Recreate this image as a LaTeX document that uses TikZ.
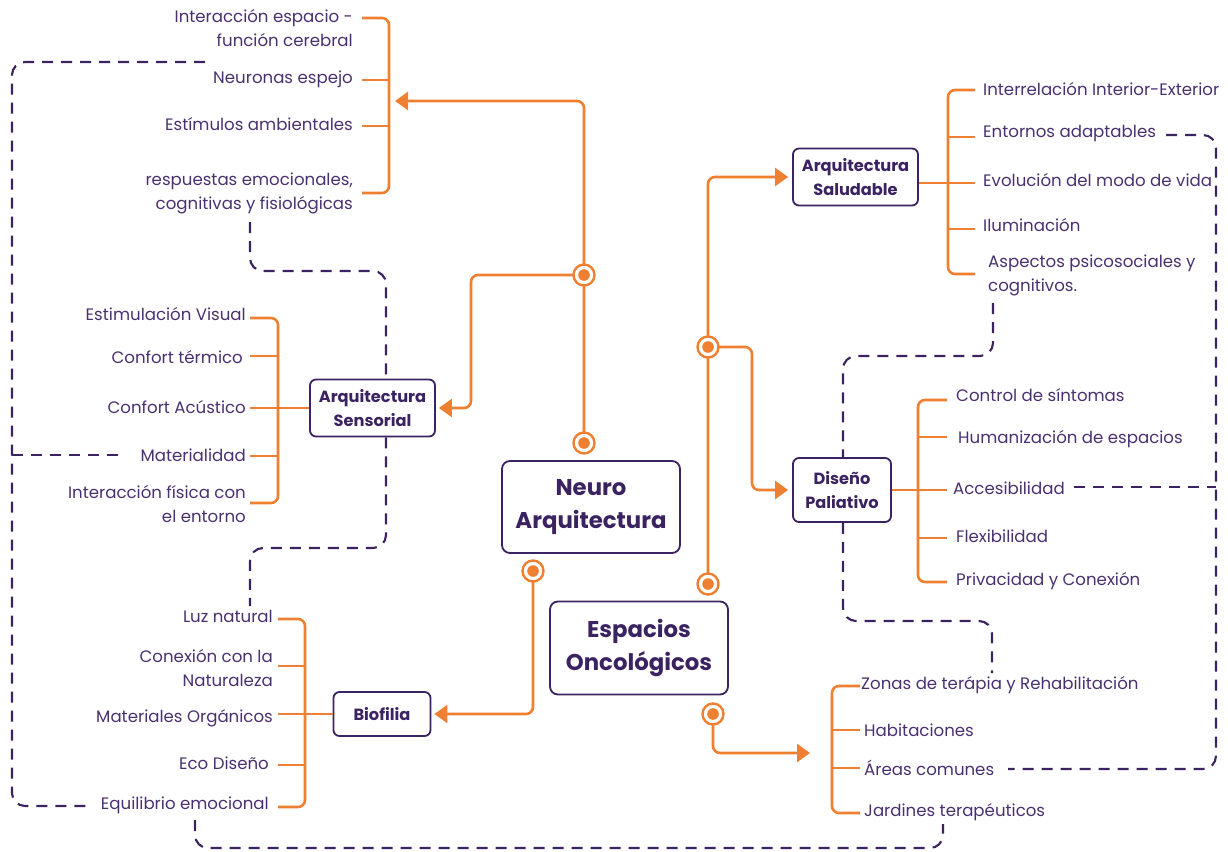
\documentclass[tikz,border=0pt]{standalone}
\usepackage{fontspec}
\setmainfont{Poppins}
\usetikzlibrary{arrows.meta}
\definecolor{orng}{HTML}{EF7F31}
\definecolor{purp}{HTML}{3B2261}
\definecolor{txt}{HTML}{4A3070}
\begin{document}
\begin{tikzpicture}[x=1pt,y=-1pt,
  lbl/.style={text=txt, inner sep=0, font=\fontsize{16.6}{24}\selectfont},
  lblR/.style={lbl, anchor=east, align=right},
  lblL/.style={lbl, anchor=west, align=left},
  box/.style={draw=purp, line width=1.8, rounded corners=6, text=purp, fill=white,
    font=\bfseries\fontsize{16.2}{24}\selectfont, align=center, inner sep=0},
  bigbox/.style={box, rounded corners=8, font=\bfseries\fontsize{22.8}{33}\selectfont},
  oline/.style={draw=orng, line width=2.6, rounded corners=7},
  arr/.style={-{Triangle[length=13,width=18]}},
  dline/.style={draw=purp, line width=2.1, dash pattern=on 11 off 8, rounded corners=13},
  ringnode/.style={circle, draw=orng, fill=white, line width=2.4, minimum size=21, inner sep=0,
    path picture={\fill[orng] (path picture bounding box.center) circle (5.8);}}
]
\useasboundingbox (0,0) rectangle (1228,851);

% ---------- main boxes ----------
\node[bigbox, minimum width=178, minimum height=92] (neuro) at (591,507) {Neuro\\Arquitectura};
\node[bigbox, minimum width=178, minimum height=93] (onco) at (639,648) {Espacios\\Oncológicos};
\node[box, minimum width=125, minimum height=57] (sens) at (372.5,408) {Arquitectura\\Sensorial};
\node[box, minimum width=97, minimum height=44] (bio) at (382,714) {Biofilia};
\node[box, minimum width=125, minimum height=57] (salud) at (855.5,177) {Arquitectura\\Saludable};
\node[box, minimum width=98, minimum height=64] (pal) at (842,490) {Diseño\\Paliativo};

% ---------- arrow end points ----------
\coordinate (tipA) at (395,101);
\coordinate (tipO) at (810,753);

% ---------- orange connectors ----------
\coordinate (nA) at (584,275);
\coordinate (nB) at (584,443);
\coordinate (nC) at (533,571);
\coordinate (oA) at (708,347);
\coordinate (oB) at (708,584);
\coordinate (oC) at (713,714);

\draw[oline, arr] (nB) -- (584,101) -- (tipA);
\draw[oline, arr] (nA) -- (471,275) -- (471,408) -- ([xshift=3pt]sens.east);
\draw[oline, arr] (nC) -- (533,714) -- ([xshift=3pt]bio.east);
\draw[oline, arr] (oB) -- (708,177) -- ([xshift=-4pt]salud.west);
\draw[oline, arr] (oA) -- (752,347) -- (752,490) -- ([xshift=-4pt]pal.west);
\draw[oline, arr] (oC) -- (713,753) -- (tipO);

\foreach \p in {nA,nB,nC,oA,oB,oC} \node[ringnode] (r\p) at (\p) {};

% ---------- brackets ----------
% Neuro Arquitectura items
\draw[oline] (362,18) -- (389,18) -- (389,193) -- (362,193);
\foreach \y in {80,126} \draw[oline] (362,\y) -- (389,\y);
% Arquitectura Sensorial items
\draw[oline] (250,318) -- (278,318) -- (278,503) -- (250,503);
\foreach \y in {356,456} \draw[oline] (250,\y) -- (278,\y);
\draw[oline] (250,408) -- (sens.west);
% Biofilia items
\draw[oline] (278,619) -- (305,619) -- (305,807) -- (278,807);
\foreach \y in {666,765} \draw[oline] (278,\y) -- (305,\y);
\draw[oline] (278,714) -- (bio.west);
% Arquitectura Saludable items
\draw[oline] (975,90) -- (948,90) -- (948,274) -- (975,274);
\foreach \y in {137,229} \draw[oline] (948,\y) -- (975,\y);
\draw[oline] (salud.east |- 0,183) -- (975,183);
% Diseño Paliativo items
\draw[oline] (947,400) -- (918,400) -- (918,582) -- (947,582);
\foreach \y in {437,538} \draw[oline] (918,\y) -- (947,\y);
\draw[oline] (pal.east) -- (947,490);
% Espacios Oncológicos items
\draw[oline] (860,686) -- (832,686) -- (832,813) -- (860,813);
\foreach \y in {730,768} \draw[oline] (832,\y) -- (860,\y);

% ---------- labels ----------
\node[lblR] (t1) at (353,28.5) {Interacción espacio -\\función cerebral};
\node[lblR] (t2) at (353,79) {Neuronas espejo};
\node[lblR] (t3) at (353,124) {Estímulos ambientales};
\node[lblR] (t4) at (353,193) {respuestas emocionales,\\cognitivas y fisiológicas};

\node[lblR] (s1) at (246,314) {Estimulación Visual};
\node[lblR] (s2) at (243,357) {Confort térmico};
\node[lblR] (s3) at (246,407) {Confort Acústico};
\node[lblR] (s4) at (246,455) {Materialidad};
\node[lblR] (s5) at (246,504.5) {Interacción física con\\el entorno};

\node[lblR] (b1) at (273,616) {Luz natural};
\node[lblR] (b2) at (273,668) {Conexión con la\\Naturaleza};
\node[lblR] (b3) at (273,718) {Materiales Orgánicos};
\node[lblR] (b4) at (269,763) {Eco Diseño};
\node[lblR] (b5) at (269,805) {Equilibrio emocional};

\node[lblL] (h1) at (983,89) {Interrelación Interior-Exterior};
\node[lblL] (h2) at (983,134) {Entornos adaptables};
\node[lblL] (h3) at (983,180) {Evolución del modo de vida};
\node[lblL] (h4) at (983,225) {Iluminación};
\node[lblL] (h5) at (988,275) {Aspectos psicosociales y\\cognitivos.};

\node[lblL] (p1) at (956,395) {Control de síntomas};
\node[lblL] (p2) at (958,439) {Humanización de espacios};
\node[lblL] (p3) at (953,488) {Accesibilidad};
\node[lblL] (p4) at (956,536) {Flexibilidad};
\node[lblL] (p5) at (956,581) {Privacidad y Conexión};

\node[lblL] (o1) at (861,685) {Zonas de terápia y Rehabilitación};
\node[lblL] (o2) at (864,730) {Habitaciones};
\node[lblL] (o3) at (864,768) {Áreas comunes};
\node[lblL] (o4) at (864,812) {Jardines terapéuticos};

% ---------- dashed cross links ----------
\coordinate (dA) at (205,62);
\coordinate (dB) at (90,806);
\draw[dline] (dA) -- (12,62) -- (12,806) -- (dB);
\coordinate (dM) at (122,455);
\draw[dline] (12,455) -- (dM);

\coordinate (dC) at (250,222);
\draw[dline] (dC) -- (250,271) -- (386,271) -- (sens.north -| 386,0);
\coordinate (dD) at (250,606);
\draw[dline] (sens.south -| 386,0) -- (386,548) -- (250,548) -- (dD);

\coordinate (dE) at (195,820);
\coordinate (dF) at (943,824);
\draw[dline] (dE) -- (195,848) -- (943,848) -- (dF);

\coordinate (dG) at (993,303);
\draw[dline] (dG) -- (993,356) -- (843,356) -- (pal.north -| 843,0);
\coordinate (dH) at (992,673);
\draw[dline] (pal.south -| 843,0) -- (843,621) -- (992,621) -- (dH);

\coordinate (dI) at (1166,135);
\coordinate (dJ) at (1008,769);
\draw[dline] (dI) -- (1216,135) -- (1216,769) -- (dJ);
\coordinate (dK) at (1074,487);
\draw[dline] (dK) -- (1216,487);
\end{tikzpicture}
\end{document}
